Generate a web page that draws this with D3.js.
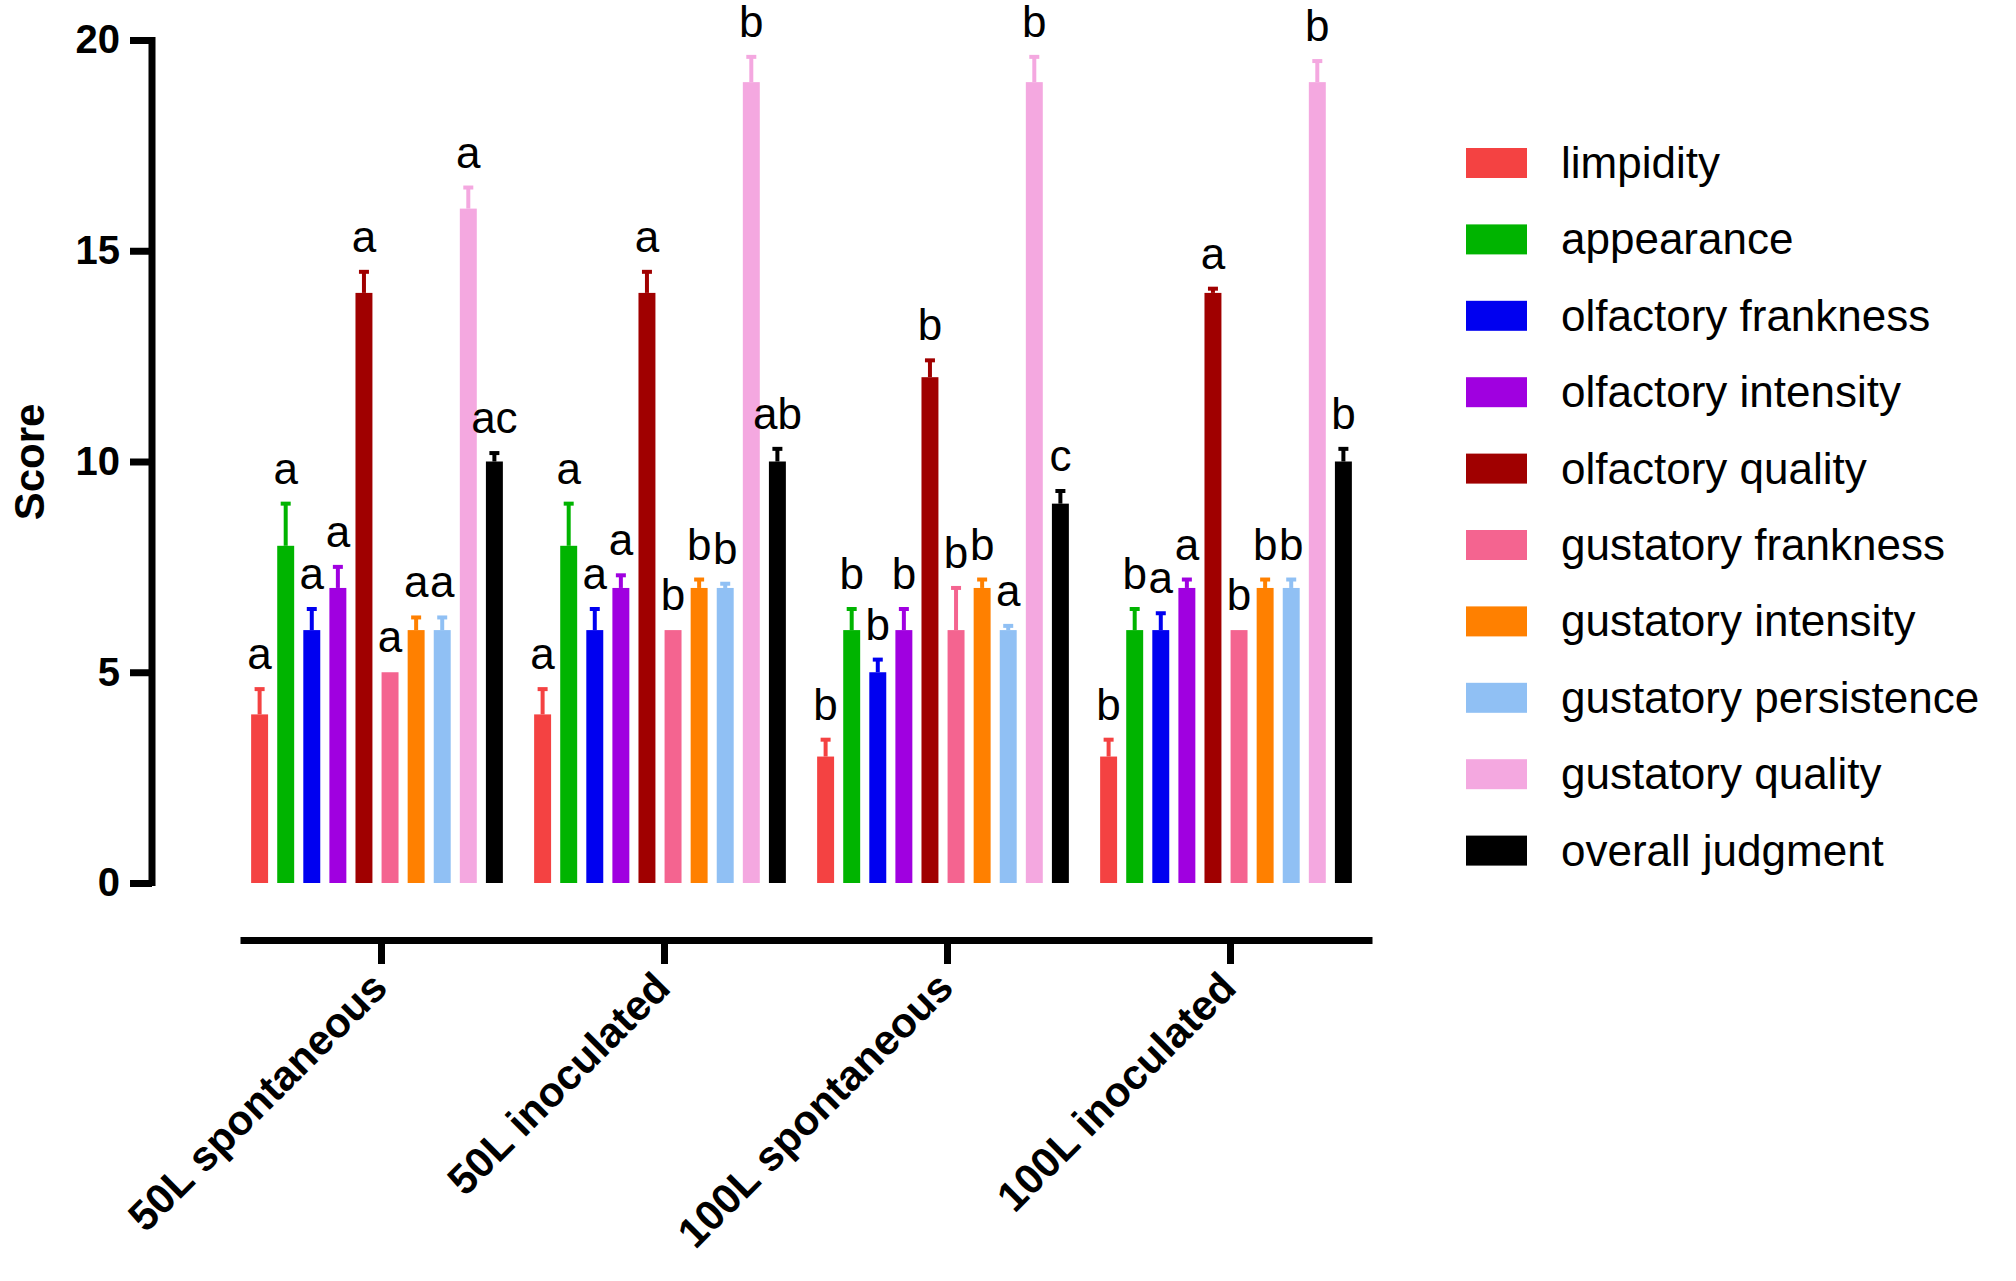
<!DOCTYPE html>
<html><head><meta charset="utf-8">
<script src="https://cdn.jsdelivr.net/npm/d3@7"></script>
<style>body{margin:0;background:#fff}</style>
</head><body><svg id="c" width="2016" height="1281"></svg>
<script>
const groups = ["50L spontaneous", "50L inoculated", "100L spontaneous", "100L inoculated"];
const series = ["limpidity", "appearance", "olfactory frankness", "olfactory intensity", "olfactory quality",
  "gustatory frankness", "gustatory intensity", "gustatory persistence", "gustatory quality", "overall judgment"];
const colors = ["#f44242", "#00b400", "#0000f0", "#a000e0", "#a00000", "#f46490", "#ff8000", "#90c0f4", "#f4a8e0", "#000000"];
const means = [
  [4, 8, 6, 7, 14, 5, 6, 6, 16, 10],
  [4, 8, 6, 7, 14, 6, 7, 7, 19, 10],
  [3, 6, 5, 6, 12, 6, 7, 6, 19, 9],
  [3, 6, 6, 7, 14, 6, 7, 7, 19, 10]
];
const errTop = [
  [4.6, 9, 6.5, 7.5, 14.5, 5, 6.3, 6.3, 16.5, 10.2],
  [4.6, 9, 6.5, 7.3, 14.5, 6, 7.2, 7.1, 19.6, 10.3],
  [3.4, 6.5, 5.3, 6.5, 12.4, 7, 7.2, 6.1, 19.6, 9.3],
  [3.4, 6.5, 6.4, 7.2, 14.1, 6, 7.2, 7.2, 19.5, 10.3]
];
const letters = [
  ["a", "a", "a", "a", "a", "a", "a", "a", "a", "ac"],
  ["a", "a", "a", "a", "a", "b", "b", "b", "b", "ab"],
  ["b", "b", "b", "b", "b", "b", "b", "a", "b", "c"],
  ["b", "b", "a", "a", "a", "b", "b", "b", "b", "b"]
];
const yTicks = [0, 5, 10, 15, 20];

const svg = d3.select("#c");
const F = "Arial, 'Liberation Sans', sans-serif";
const y = d3.scaleLinear().domain([0, 20]).range([883, 40]);
const x0 = d3.scaleBand().domain(groups).range([240, 1372]).paddingInner(0).paddingOuter(0);
const x1 = d3.scaleBand().domain(series).range([2, 272]).padding(0.35);

// y axis
const ya = svg.append("g").attr("transform", "translate(152,0)")
  .call(d3.axisLeft(y).tickValues(yTicks).tickSize(22).tickPadding(10));
ya.select(".domain").attr("stroke-width", 7).attr("d", "M0,37V886");
ya.selectAll(".tick line").attr("stroke-width", 7);
ya.selectAll("text").attr("font-family", F).attr("font-weight", "bold").attr("font-size", 40).attr("fill", "#000");

svg.append("text").attr("transform", "translate(44,462) rotate(-90)").attr("text-anchor", "middle")
  .attr("font-family", F).attr("font-weight", "bold").attr("font-size", 42).text("Score");

// x axis
const xa = svg.append("g").attr("transform", "translate(0,940)")
  .call(d3.axisBottom(x0).tickSize(24).tickSizeOuter(0).tickFormat(""));
xa.select(".domain").attr("stroke-width", 7);
xa.selectAll(".tick line").attr("stroke-width", 7);
groups.forEach(g => {
  const cx = x0(g) + x0.bandwidth() / 2;
  svg.append("text").attr("transform", `translate(${cx + 8},${990}) rotate(-45)`)
    .attr("text-anchor", "end").attr("font-family", F).attr("font-weight", "bold").attr("font-size", 42).text(g);
});

// bars
groups.forEach((g, gi) => {
  const gg = svg.append("g").attr("transform", `translate(${x0(g)},0)`);
  series.forEach((s, si) => {
    const bx = x1(s), bw = x1.bandwidth(), c = colors[si];
    gg.append("rect").attr("x", bx).attr("width", bw).attr("y", y(means[gi][si]))
      .attr("height", y(0) - y(means[gi][si])).attr("fill", c);
    const cx = bx + bw / 2;
    if (errTop[gi][si] > means[gi][si]) {
      gg.append("line").attr("x1", cx).attr("x2", cx).attr("y1", y(means[gi][si])).attr("y2", y(errTop[gi][si]))
        .attr("stroke", c).attr("stroke-width", 4);
      gg.append("line").attr("x1", cx - 5).attr("x2", cx + 5).attr("y1", y(errTop[gi][si])).attr("y2", y(errTop[gi][si]))
        .attr("stroke", c).attr("stroke-width", 4);
    }
    gg.append("text").attr("x", cx).attr("y", y(errTop[gi][si]) - 20).attr("text-anchor", "middle")
      .attr("font-family", F).attr("font-size", 44).text(letters[gi][si]);
  });
});

// legend
const lg = svg.append("g");
series.forEach((s, i) => {
  const ly = 163 + i * 76.4;
  lg.append("rect").attr("x", 1466).attr("y", ly - 15).attr("width", 61).attr("height", 30).attr("fill", colors[i]);
  lg.append("text").attr("x", 1561).attr("y", ly + 15).attr("font-family", F).attr("font-size", 44).text(s);
});
</script></body></html>
